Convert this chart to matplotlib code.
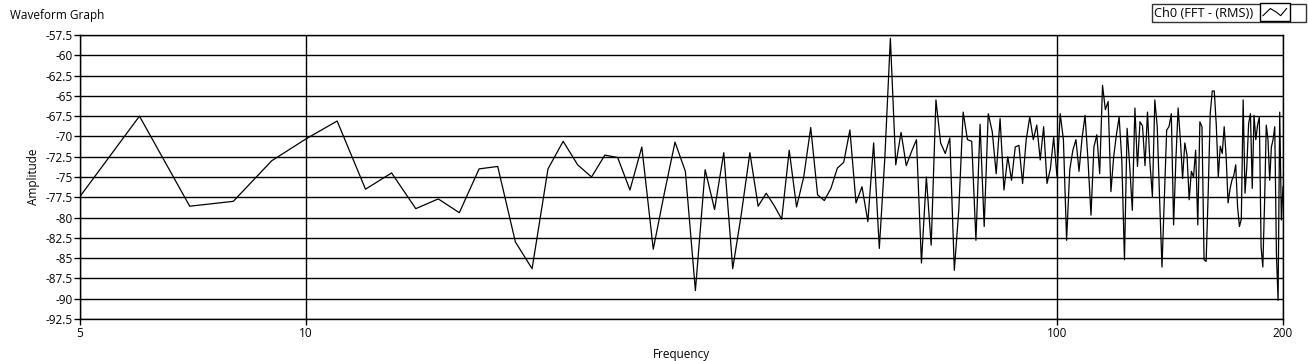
import numpy as np
import matplotlib
matplotlib.use("Agg")
import matplotlib.pyplot as plt
from matplotlib.legend_handler import HandlerBase
from matplotlib.patches import Rectangle
from matplotlib.lines import Line2D

# ---- data ----
freq_start = 5      # Hz, first FFT bin shown
freq_step = 1       # Hz, bin spacing
amplitude = [
    -77.4, -67.5, -78.6, -78.0, -73.0, -70.3, -68.1, -76.5, -74.5, -78.9,   # 5-14
    -77.7, -79.4, -74.0, -73.7, -83.0, -86.3, -74.0, -70.6, -73.5, -75.0,   # 15-24
    -72.3, -72.6, -76.6, -71.3, -83.9, -77.0, -70.7, -74.3, -89.0, -74.1,   # 25-34
    -79.0, -72.0, -86.3, -79.5, -72.0, -78.6, -77.0, -78.5, -80.2, -71.7,   # 35-44
    -78.7, -75.0, -68.9, -77.2, -77.9, -76.4, -73.9, -73.2, -69.2, -78.2,   # 45-54
    -76.2, -80.5, -70.8, -83.8, -72.5, -57.9, -73.5, -69.5, -73.6, -71.9,   # 55-64
    -70.4, -85.6, -75.0, -83.4, -65.5, -70.8, -72.1, -70.2, -86.5, -79.1,   # 65-74
    -67.0, -70.4, -70.6, -82.8, -68.5, -81.1, -67.2, -69.4, -74.6, -67.8,   # 75-84
    -76.6, -72.5, -75.4, -71.3, -71.1, -75.8, -70.4, -67.6, -70.4, -68.6,   # 85-94
    -72.9, -68.8, -75.8, -74.0, -70.1, -74.9, -67.2, -70.4, -82.8, -74.1,   # 95-104
    -71.7, -70.4, -74.3, -70.2, -67.4, -73.0, -79.7, -71.3, -69.8, -74.6,   # 105-114
    -63.7, -66.7, -65.7, -76.8, -72.5, -69.8, -67.6, -72.9, -85.2, -69.0,   # 115-124
    -73.7, -79.1, -66.5, -73.7, -68.2, -68.7, -73.6, -67.0, -73.3, -77.4,   # 125-134
    -65.5, -68.8, -77.8, -86.1, -77.8, -69.2, -68.8, -67.2, -80.9, -72.9,   # 135-144
    -66.5, -70.4, -75.2, -70.8, -72.3, -77.8, -74.3, -75.0, -71.7, -80.9,   # 145-154
    -68.2, -68.8, -85.2, -85.4, -77.0, -67.2, -64.4, -64.4, -68.6, -75.0,   # 155-164
    -71.2, -72.1, -68.8, -72.5, -78.2, -76.5, -75.4, -74.8, -73.5, -78.7,   # 165-174
    -81.1, -80.2, -65.5, -77.0, -73.7, -68.4, -67.2, -76.4, -67.4, -70.4,   # 175-184
    -68.6, -67.6, -83.6, -86.1, -78.2, -68.6, -70.4, -75.4, -71.3, -70.4,   # 185-194
    -68.8, -84.4, -90.2, -67.0, -80.3, -76.2,                               # 195-200
]
frequency = freq_start + freq_step * np.arange(len(amplitude))

y_ticks = [-92.5, -90, -87.5, -85, -82.5, -80, -77.5, -75, -72.5, -70,
           -67.5, -65, -62.5, -60, -57.5]
x_ticks = [5, 10, 100, 200]
x_tick_labels = ["5", "10", "100", "200"]
series_name = "Ch0 (FFT - (RMS))"

# ---- figure ----
plt.rcParams['font.family'] = ['Open Sans', 'DejaVu Sans']
W, H = 1308, 361
fig = plt.figure(figsize=(W / 100, H / 100), dpi=100)
ax = fig.add_axes([80 / W, 1 - 319 / H, (1283 - 80) / W, (319 - 35) / H])

line, = ax.plot(frequency, amplitude, color='black', lw=0.9, label=series_name)

ax.set_xscale('log')
ax.set_xlim(5, 200)
ax.set_ylim(-92.5, -57.5)
ax.set_xticks(x_ticks)
ax.set_xticklabels(x_tick_labels)
ax.xaxis.set_minor_locator(matplotlib.ticker.NullLocator())
ax.set_yticks(y_ticks)
ax.set_yticklabels([f"{v:g}" for v in y_ticks])

ax.grid(True, which='major', color='black', lw=1.0)
ax.set_axisbelow(True)
for s in ax.spines.values():
    s.set_color('black')
    s.set_linewidth(1.0)
ax.tick_params(axis='both', which='major', direction='out', length=4,
               width=1, color='black', labelsize=8.5, pad=1.5)

ax.set_xlabel("Frequency", fontsize=8.5, labelpad=6)
ax.set_ylabel("Amplitude", fontsize=8.5, labelpad=4)

fig.text(10 / W, 1 - 16 / H, "Waveform Graph", fontsize=8.5, va='center', ha='left')


class IconHandler(HandlerBase):
    def create_artists(self, legend, orig_handle, xdescent, ydescent,
                       width, height, fontsize, trans):
        bw = width * 0.68
        rect = Rectangle((-xdescent, -ydescent - 3.5), bw, height + 7,
                         facecolor='white', edgecolor='black', lw=1.0,
                         transform=trans)
        xs = np.array([0.1, 0.35, 0.55, 0.7, 0.9]) * bw - xdescent
        ys = np.array([0.1, 0.9, 0.5, 0.1, 0.9]) * height - ydescent
        zig = Line2D(xs, ys, color='black', lw=0.8, transform=trans)
        return [rect, zig]


leg = fig.legend([line], [series_name], loc='upper right',
                 bbox_to_anchor=(1306 / W, 1 - 4 / H), borderaxespad=0,
                 markerfirst=False, handler_map={line: IconHandler()},
                 fontsize=9.2, frameon=True, fancybox=False,
                 handlelength=3.4, handletextpad=0.5, borderpad=0.2)
leg.get_frame().set_edgecolor('black')
leg.get_frame().set_linewidth(1.0)

fig.savefig("out.png", dpi=100, facecolor='white')
